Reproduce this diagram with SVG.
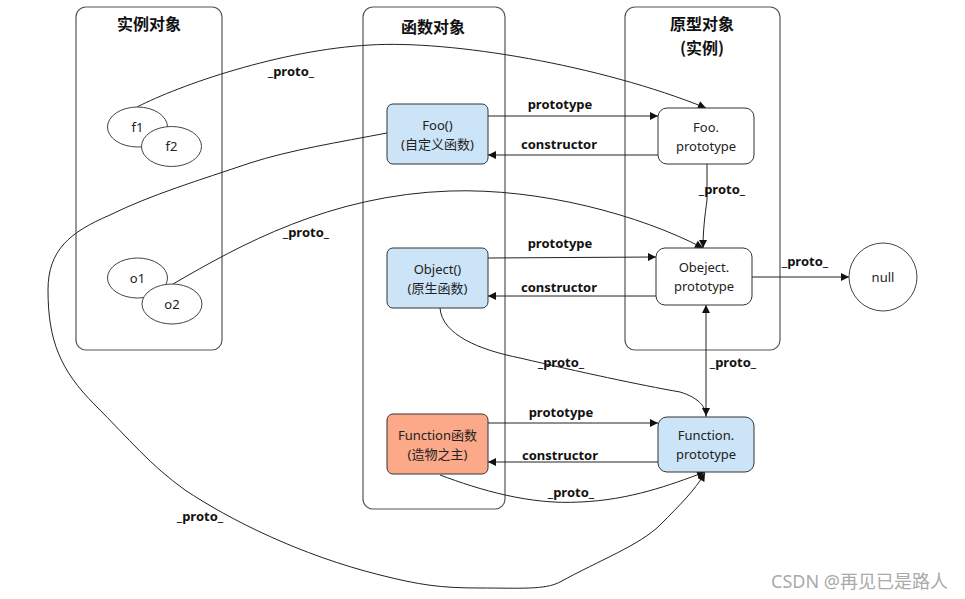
<svg xmlns="http://www.w3.org/2000/svg" width="965" height="599" viewBox="0 0 965 599">
<defs>
<marker id="arr" viewBox="0 0 10 10" refX="10" refY="5" markerWidth="9" markerHeight="8" markerUnits="userSpaceOnUse" orient="auto">
<path d="M0,0 L10,5 L0,10 Z" fill="#111"/>
</marker>
<style>
.grp{fill:#fff;stroke:#555;stroke-width:1.2}
.title{font-family:"Noto Sans CJK SC","Noto Sans",sans-serif;font-size:16px;font-weight:bold;fill:#111;text-anchor:middle}
.box{stroke:#333;stroke-width:1}
.t{font-family:"Noto Sans","Noto Sans CJK SC",sans-serif;font-size:13px;fill:#222;text-anchor:middle}
.lbl{font-family:"Noto Sans","Noto Sans CJK SC",sans-serif;font-size:13px;font-weight:bold;fill:#111;text-anchor:middle}
.e{fill:none;stroke:#222;stroke-width:1}
.ea{fill:none;stroke:#222;stroke-width:1;marker-end:url(#arr)}
</style>
</defs>
<rect width="965" height="599" fill="#fff"/>

<g id="group-instances">
<rect class="grp" x="76" y="7" width="146" height="343" rx="10"/>
<text class="title" x="149" y="30">实例对象</text>
</g>
<g id="group-functions">
<rect class="grp" x="363" y="7" width="142" height="502" rx="10"/>
<text class="title" x="433" y="33">函数对象</text>
</g>
<g id="group-prototypes">
<rect class="grp" x="625" y="7" width="155" height="343" rx="10"/>
<text class="title" x="702" y="30">原型对象</text>
<text class="title" x="702" y="54">(实例)</text>
</g>

<g id="connectors">
<path class="e" d="M137,107 C180,85 280,50 370,45 C450,40 600,65 706,108" marker-end="url(#arr)"/>
<path class="e" d="M173,284 C240,245 330,195 450,191 C540,188 640,215 703,248" marker-end="url(#arr)"/>
<path class="ea" d="M488,116 L658,116"/>
<path class="ea" d="M658,155 L488,155"/>
<path class="ea" d="M488,258 L656,257"/>
<path class="ea" d="M656,296 L488,296"/>
<path class="ea" d="M488,423 L658,423"/>
<path class="ea" d="M658,462 L488,462"/>
<path class="ea" d="M707,164 L707,200 C705,215 703,230 703,248"/>
<path class="ea" d="M752,277 L849,277"/>
<path class="ea" d="M706,417 L706,305"/>
<path class="ea" d="M440,308 C442,335 480,350 520,358 C580,372 640,385 680,392 C700,398 706,408 706,416"/>
<path class="ea" d="M440,475 C480,490 530,505 580,502 C630,500 670,485 705,472"/>
<path class="ea" d="M387,133 C340,142 290,150 250,163 C200,180 150,195 110,215 C70,232 48,250 48,290 C48,340 60,370 95,405 C130,440 150,465 185,490 C230,520 300,555 380,575 C420,585 440,588 480,588 C520,588 545,590 560,582 C600,560 640,545 660,525 C680,505 695,490 705,473"/>
<text class="lbl" x="291" y="76">_proto_</text>
<text class="lbl" x="306" y="237">_proto_</text>
<text class="lbl" x="560" y="109">prototype</text>
<text class="lbl" x="559" y="149">constructor</text>
<text class="lbl" x="560" y="248">prototype</text>
<text class="lbl" x="559" y="292">constructor</text>
<text class="lbl" x="561" y="417">prototype</text>
<text class="lbl" x="560" y="460">constructor</text>
<text class="lbl" x="722" y="194">_proto_</text>
<text class="lbl" x="805" y="266">_proto_</text>
<text class="lbl" x="733" y="367">_proto_</text>
<text class="lbl" x="561" y="367">_proto_</text>
<text class="lbl" x="571" y="497">_proto_</text>
<text class="lbl" x="200" y="521">_proto_</text>
</g>

<g id="node-f1">
<ellipse cx="137.5" cy="127" rx="30" ry="20" fill="#fff" stroke="#444"/>
<text class="t" x="137.5" y="131.5">f1</text>
</g>
<g id="node-f2">
<ellipse cx="171.5" cy="146.5" rx="30" ry="20" fill="#fff" stroke="#444"/>
<text class="t" x="171.5" y="151">f2</text>
</g>
<g id="node-o1">
<ellipse cx="137.5" cy="278" rx="30" ry="20" fill="#fff" stroke="#444"/>
<text class="t" x="137.5" y="282.5">o1</text>
</g>
<g id="node-o2">
<ellipse cx="172" cy="304" rx="30" ry="20" fill="#fff" stroke="#444"/>
<text class="t" x="172" y="308.5">o2</text>
</g>
<g id="node-foo">
<rect class="box" x="387" y="104" width="101" height="60" rx="6" fill="#cce4f7"/>
<text class="t" x="437.5" y="130">Foo()</text>
<text class="t" x="437.5" y="149">(自定义函数)</text>
</g>
<g id="node-object">
<rect class="box" x="387" y="248" width="101" height="60" rx="6" fill="#cce4f7"/>
<text class="t" x="437.5" y="274">Object()</text>
<text class="t" x="437.5" y="293">(原生函数)</text>
</g>
<g id="node-function">
<rect class="box" x="387" y="414" width="101" height="60" rx="6" fill="#fca98a"/>
<text class="t" x="437.5" y="440">Function函数</text>
<text class="t" x="437.5" y="459">(造物之主)</text>
</g>
<g id="node-foo-prototype">
<rect class="box" x="658" y="108" width="96" height="56" rx="9" fill="#fff"/>
<text class="t" x="706" y="132">Foo.</text>
<text class="t" x="706" y="151">prototype</text>
</g>
<g id="node-object-prototype">
<rect class="box" x="656" y="248" width="96" height="57" rx="9" fill="#fff"/>
<text class="t" x="704" y="272">Obeject.</text>
<text class="t" x="704" y="291">prototype</text>
</g>
<g id="node-function-prototype">
<rect class="box" x="658" y="417" width="96" height="55" rx="9" fill="#cce4f7"/>
<text class="t" x="706" y="440">Function.</text>
<text class="t" x="706" y="459">prototype</text>
</g>
<g id="node-null">
<circle cx="883" cy="277" r="34" fill="#fff" stroke="#444"/>
<text class="t" x="883" y="281.5">null</text>
</g>
<text x="948" y="588" font-family="Noto Sans, Noto Sans CJK SC, sans-serif" font-size="18" fill="#aaa" text-anchor="end">CSDN @再见已是路人</text>
</svg>
